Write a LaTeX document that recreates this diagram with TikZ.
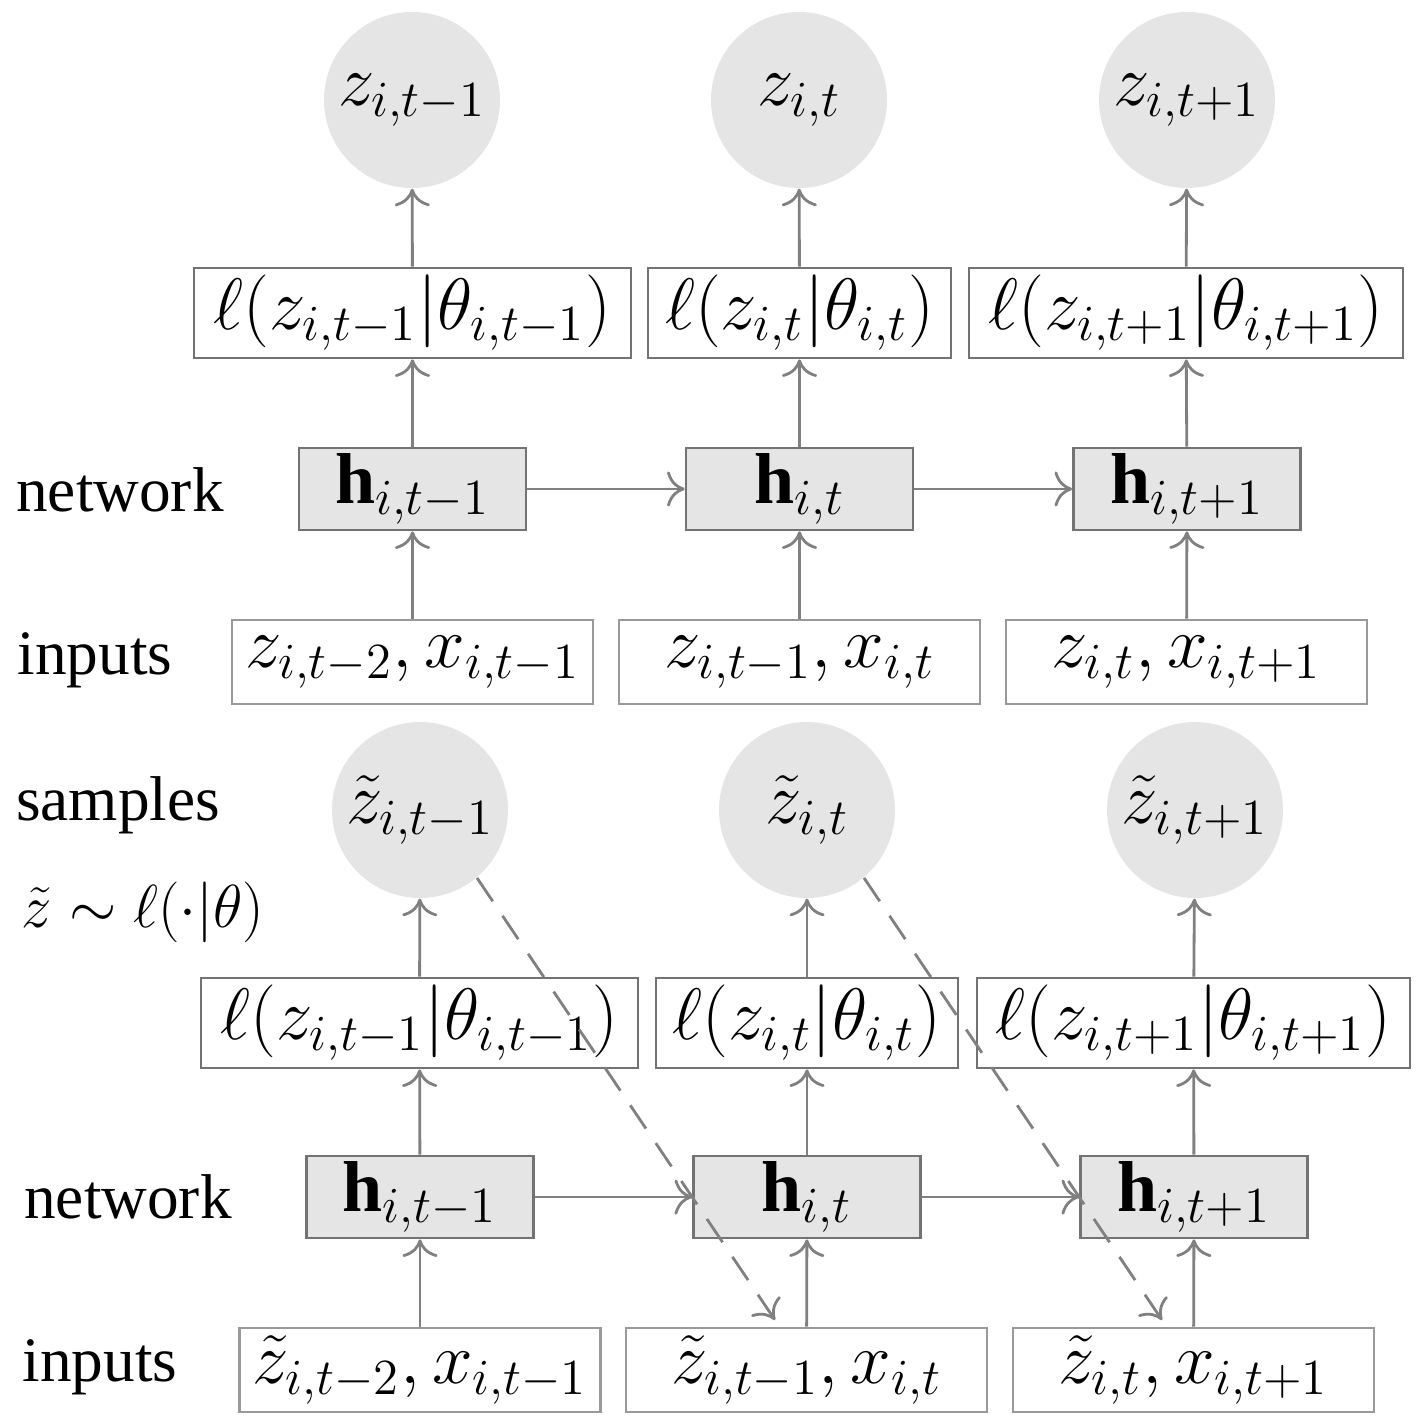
\documentclass[tikz,border=0pt]{standalone}
\usepackage{fontspec}
\setmainfont{Liberation Serif}
\usetikzlibrary{arrows.meta}
\tikzset{
  big/.style={font=\fontsize{20.5}{24}\selectfont},
  smp/.style={big,circle,fill=black!10,minimum size=1.76cm,inner sep=0pt},
  lik/.style={big,draw=black!55,thick,minimum height=0.9cm,inner sep=0pt},
  hid/.style={big,draw=black!55,thick,fill=black!10,minimum width=2.27cm,minimum height=0.82cm,inner sep=0pt},
  inp/.style={big,draw=black!40,thick,minimum width=3.61cm,minimum height=0.84cm,inner sep=0pt},
  lbl/.style={inner sep=0pt},
  arr/.style={draw=black!50,thick,-{To[length=5pt,width=10pt]}},
}
\begin{document}
\begin{tikzpicture}[font=\fontsize{18}{22}\selectfont]
\useasboundingbox (0,0) rectangle (14.25,-14.27);
% upper half
\node[smp] (z1) at (4.12,-1.00) {$z_{i,t-1}$};
\node[smp] (z2) at (7.99,-1.00) {$z_{i,t}$};
\node[smp] (z3) at (11.87,-1.00) {$z_{i,t+1}$};
\node[lik,minimum width=4.37cm] (l1) at (4.125,-3.13) {$\ell(z_{i,t-1}|\theta_{i,t-1})$};
\node[lik,minimum width=3.03cm] (l2) at (7.995,-3.13) {$\ell(z_{i,t}|\theta_{i,t})$};
\node[lik,minimum width=4.34cm] (l3) at (11.86,-3.13) {$\ell(z_{i,t+1}|\theta_{i,t+1})$};
\node[hid] (h1) at (4.125,-4.89) {$\mathbf{h}_{i,t-1}$};
\node[hid] (h2) at (7.995,-4.89) {$\mathbf{h}_{i,t}$};
\node[hid] (h3) at (11.87,-4.89) {$\mathbf{h}_{i,t+1}$};
\node[inp] (x1) at (4.125,-6.62) {$z_{i,t-2},x_{i,t-1}$};
\node[inp] (x2) at (7.995,-6.62) {$z_{i,t-1},x_{i,t}$};
\node[inp] (x3) at (11.865,-6.62) {$z_{i,t},x_{i,t+1}$};
\node[lbl] (n1) at (1.20,-4.90) {network};
\node[lbl] (i1) at (0.95,-6.60) {inputs};
\foreach \k in {1,2,3}{
  \draw[arr] (x\k) -- (h\k);
  \draw[arr] (h\k) -- (l\k);
  \draw[arr] (l\k) -- (z\k);
}
\draw[arr] (h1) -- (h2);
\draw[arr] (h2) -- (h3);
% lower half
\node[smp] (s1) at (4.20,-8.10) {$\tilde z_{i,t-1}$};
\node[smp] (s2) at (8.07,-8.10) {$\tilde z_{i,t}$};
\node[smp] (s3) at (11.95,-8.10) {$\tilde z_{i,t+1}$};
\node[lik,minimum width=4.37cm] (m1) at (4.195,-10.23) {$\ell(z_{i,t-1}|\theta_{i,t-1})$};
\node[lik,minimum width=3.02cm] (m2) at (8.07,-10.23) {$\ell(z_{i,t}|\theta_{i,t})$};
\node[lik,minimum width=4.33cm] (m3) at (11.935,-10.23) {$\ell(z_{i,t+1}|\theta_{i,t+1})$};
\node[hid] (g1) at (4.20,-11.97) {$\mathbf{h}_{i,t-1}$};
\node[hid] (g2) at (8.07,-11.97) {$\mathbf{h}_{i,t}$};
\node[hid] (g3) at (11.94,-11.97) {$\mathbf{h}_{i,t+1}$};
\node[inp] (y1) at (4.20,-13.70) {$\tilde z_{i,t-2},x_{i,t-1}$};
\node[inp] (y2) at (8.065,-13.70) {$\tilde z_{i,t-1},x_{i,t}$};
\node[inp] (y3) at (11.935,-13.70) {$\tilde z_{i,t},x_{i,t+1}$};
\node[lbl] (p1) at (1.18,-8.05) {samples};
\node[lbl,font=\fontsize{19}{23}\selectfont] (p2) at (1.43,-9.12) {$\tilde z\sim\ell(\cdot|\theta)$};
\node[lbl] (n2) at (1.28,-11.97) {network};
\node[lbl] (i2) at (1.00,-13.67) {inputs};
\foreach \k in {1,2,3}{
  \draw[arr] (y\k) -- (g\k);
  \draw[arr] (g\k) -- (m\k);
  \draw[arr] (m\k) -- (s\k);
}
\draw[arr] (g1) -- (g2);
\draw[arr] (g2) -- (g3);
\coordinate (d1) at (7.75,-13.20);
\coordinate (d2) at (11.62,-13.20);
\draw[arr,dashed,dash pattern=on 8pt off 5pt] (s1.-50) -- (d1);
\draw[arr,dashed,dash pattern=on 8pt off 5pt] (s2.-50) -- (d2);
\end{tikzpicture}
\end{document}
